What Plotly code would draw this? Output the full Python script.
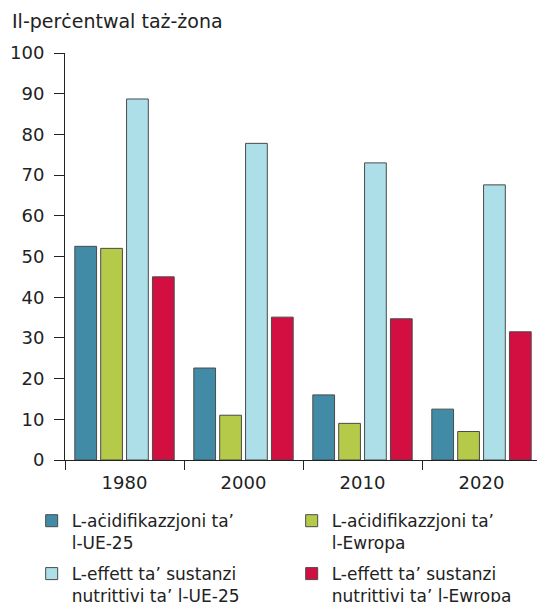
import plotly.graph_objects as go

years = ["1980", "2000", "2010", "2020"]
acid_eu25 = [52.5, 22.6, 16.0, 12.5]
acid_europe = [52.0, 11.0, 9.0, 7.0]
eutro_eu25 = [88.7, 77.8, 73.0, 67.6]
eutro_europe = [45.0, 35.1, 34.7, 31.5]

series_names = [
    "L-aċidifikazzjoni ta’<br>l-UE-25",
    "L-aċidifikazzjoni ta’<br>l-Ewropa",
    "L-effett ta’ sustanzi<br>nutrittivi ta’ l-UE-25",
    "L-effett ta’ sustanzi<br>nutrittivi ta’ l-Ewropa",
]
colors = ["#428BA6", "#B5CA48", "#ADDFE8", "#D20F40"]
values = [acid_eu25, acid_europe, eutro_eu25, eutro_europe]
legend_ids = ["legend", "legend", "legend2", "legend2"]

font = "DejaVu Sans, Verdana, sans-serif"
txt = "#222"

fig = go.Figure()
for name, col, vals, lg in zip(series_names, colors, values, legend_ids):
    fig.add_trace(go.Bar(
        x=years, y=vals, name=name, legend=lg,
        marker=dict(color=col, line=dict(color="#4a4a4a", width=1)),
    ))

legend_common = dict(
    orientation="h", x=-0.07, xanchor="left", yanchor="top",
    entrywidth=215, entrywidthmode="pixels", valign="top",
    font=dict(family=font, size=17, color=txt),
)

fig.update_layout(
    width=537, height=594,
    margin=dict(l=57, r=4, t=45, b=142, autoexpand=False),
    plot_bgcolor="white", paper_bgcolor="white",
    barmode="group", bargap=0.13, bargroupgap=0.16,
    font=dict(family=font, size=18, color=txt),
    showlegend=True,
    legend=dict(y=-0.106, **legend_common),
    legend2=dict(y=-0.236, **legend_common),
    annotations=[dict(
        text="Il-perċentwal taż-żona", xref="paper", yref="paper",
        x=-0.115, y=1.079, xanchor="left", yanchor="middle", showarrow=False,
        font=dict(family=font, size=19, color=txt),
    )],
)
fig.update_yaxes(
    range=[0, 100], dtick=10, showgrid=False, zeroline=False,
    showline=True, linecolor=txt, linewidth=1,
    ticks="outside", ticklen=10, tickcolor=txt, ticklabelstandoff=6,
    tickfont=dict(family=font, size=18, color=txt),
)
fig.update_xaxes(
    showgrid=False, showline=True, linecolor=txt, linewidth=1,
    ticks="outside", ticklen=9, tickcolor=txt, tickson="boundaries",
    ticklabelstandoff=6,
    tickfont=dict(family=font, size=18, color=txt),
)

fig.write_html("out.html")
